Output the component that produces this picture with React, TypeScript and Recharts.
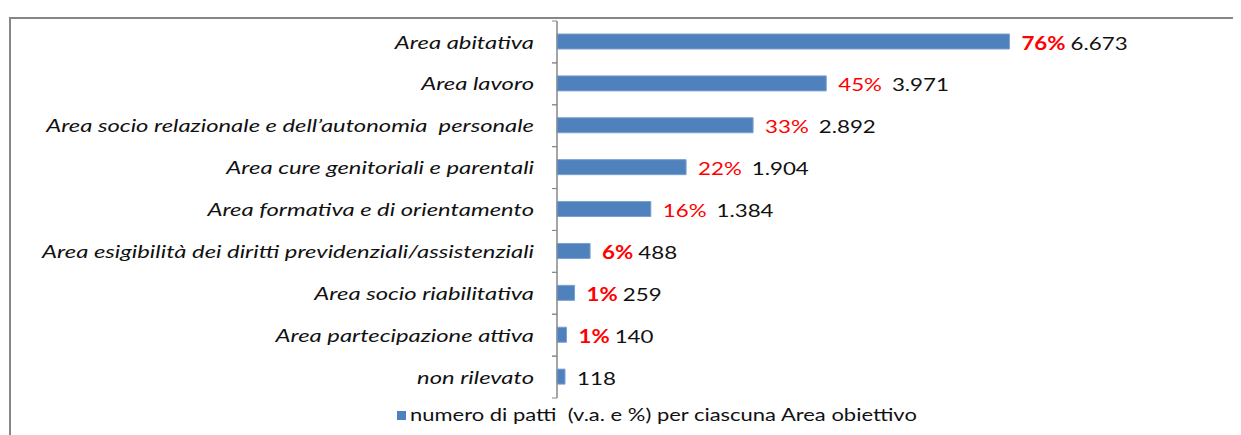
import React from "react";
import {
  BarChart,
  Bar,
  XAxis,
  YAxis,
  CartesianGrid,
  Legend,
  LabelList,
} from "recharts";

const categories = [
  "Area abitativa",
  "Area lavoro",
  "Area socio relazionale e dell’autonomia  personale",
  "Area cure genitoriali e parentali",
  "Area formativa e di orientamento",
  "Area esigibilità dei diritti previdenziali/assistenziali",
  "Area socio riabilitativa",
  "Area partecipazione attiva",
  "non rilevato",
];
const values = [6673, 3971, 2892, 1904, 1384, 488, 259, 140, 118];
const percents = ["76%", "45%", "33%", "22%", "16%", "6%", "1%", "1%", ""];
const boldPercent = [true, false, false, false, false, true, true, true, false];
const xTicks = [0, 2000, 4000, 6000, 8000, 10000];
const seriesName = "numero di patti  (v.a. e %) per ciascuna Area obiettivo";

const W = 1233;
const H = 427;
const MARGIN = { top: 13, right: 6, left: 0, bottom: 10 };
const PLOT_H = 377;
const BAND = PLOT_H / categories.length;
const FONT = "Lato, 'Liberation Sans', sans-serif";
const GRID = "#878787";
// the source screenshot is stretched horizontally, so text is widened to match
const LABEL_STRETCH = 1.4;
const VALUE_STRETCH = 1.24;

const data = categories.map((name, i) => ({
  name,
  value: values[i],
  pct: percents[i],
  bold: boldPercent[i],
}));

const fmt = (v: number) => String(v).replace(/\B(?=(\d{3})+(?!\d))/g, ".");

const CategoryTick = (props: any) => {
  const { x, y, payload } = props;
  return (
    <g>
      <line x1={x - 5} x2={x} y1={y - BAND / 2} y2={y - BAND / 2} stroke={GRID} />
      <line x1={x - 5} x2={x} y1={y + BAND / 2} y2={y + BAND / 2} stroke={GRID} />
      <text
        transform={`translate(${x - 23},${y}) scale(${LABEL_STRETCH},1)`}
        textAnchor="end"
        dominantBaseline="central"
        fontStyle="italic"
        fontSize={17}
        fontFamily={FONT}
        fill="#111"
        style={{ whiteSpace: "pre" }}
      >
        {payload.value}
      </text>
    </g>
  );
};

const ValueLabel = (props: any) => {
  const { x, y, width, height, index } = props;
  const d = data[index];
  return (
    <text
      transform={`translate(${x + width + 12},${y + height / 2 + 1}) scale(${VALUE_STRETCH},1)`}
      dominantBaseline="central"
      fontSize={18}
      fontFamily={FONT}
    >
      {d.pct && (
        <tspan fill="#ff0000" fontWeight={d.bold ? 700 : 400}>
          {d.pct}
        </tspan>
      )}
      <tspan dx={d.pct ? (d.bold ? 4 : 8) : 0} fill="#111">
        {fmt(d.value)}
      </tspan>
    </text>
  );
};

const LegendContent = () => (
  <div
    style={{
      height: 27,
      paddingLeft: 389,
      display: "flex",
      alignItems: "flex-end",
      fontFamily: FONT,
      fontSize: 18,
      color: "#111",
      whiteSpace: "pre",
    }}
  >
    <span
      style={{
        display: "inline-block",
        width: 9,
        height: 9,
        background: "#4f81bd",
        marginRight: 4,
        marginBottom: 5,
      }}
    />
    <span style={{ display: "inline-block", transform: "scaleX(1.22)", transformOrigin: "left" }}>
      {seriesName}
    </span>
  </div>
);

export default function App() {
  return (
    <div style={{ position: "relative", width: W, height: H, fontFamily: FONT }}>
      <div
        style={{
          position: "absolute",
          left: 1,
          top: 9,
          right: -20,
          bottom: -20,
          borderTop: "2px solid #868686",
          borderLeft: "2px solid #868686",
          pointerEvents: "none",
        }}
      />
      <BarChart
        width={W}
        height={H}
        data={data}
        layout="vertical"
        margin={MARGIN}
        style={{ fontFamily: FONT }}
      >
        <CartesianGrid horizontal={false} stroke={GRID} strokeWidth={1} />
        <XAxis
          type="number"
          orientation="top"
          domain={[0, 10000]}
          ticks={xTicks}
          tick={false}
          tickLine={false}
          height={0}
          axisLine={{ stroke: GRID }}
        />
        <YAxis
          type="category"
          dataKey="name"
          width={549}
          tickSize={0}
          tickMargin={0}
          tickLine={false}
          axisLine={{ stroke: GRID }}
          tick={<CategoryTick />}
          interval={0}
        />
        <Legend verticalAlign="bottom" content={<LegendContent />} />
        <Bar
          dataKey="value"
          name={seriesName}
          fill="#4f81bd"
          stroke="#7aa0cf"
          strokeWidth={1}
          barSize={15}
          isAnimationActive={false}
        >
          <LabelList dataKey="value" content={<ValueLabel />} />
        </Bar>
      </BarChart>
    </div>
  );
}
